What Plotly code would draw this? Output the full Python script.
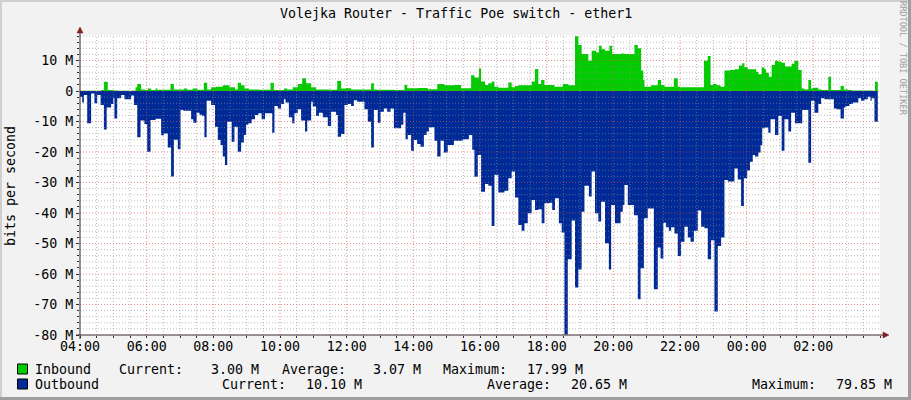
import plotly.graph_objects as go
import pandas as pd

TITLE = "Volejka Router - Traffic Poe switch - ether1"
Y_LABEL = "bits per second"
WATERMARK = "RRDTOOL / TOBI OETIKER"
START = pd.Timestamp("2024-01-01 04:00")
SPAN_MIN = 1440

# Inbound (positive, Mbit/s) - step breakpoints, minutes since 04:00
inbound_min = [0, 38, 43, 50, 61, 68, 100, 103, 110, 117, 122, 128, 136, 139, 163, 169, 187, 193, 203, 211, 223, 229, 236,
               245, 257, 269, 279, 284, 290, 296, 304, 323, 343, 349, 367, 373, 383, 392, 400, 407, 416, 425, 449, 463, 470, 479,
               482, 488, 524, 529, 535, 566, 584, 589, 608, 626, 643, 656, 674, 686, 704, 710, 718, 722,
               729, 735, 741, 746, 753, 771, 777, 783, 789, 813, 819, 825, 830, 836, 854, 869, 879, 891, 897, 903, 915, 921, 929, 934, 939, 945, 953, 958,
               974, 980, 998, 1004, 1010, 1014, 1016, 1028, 1040, 1046, 1052, 1069, 1076, 1080, 1123, 1130, 1135, 1139, 1146, 1153, 1160, 1170, 1178, 1186, 1192, 1196, 1202,
               1217, 1221, 1227, 1232, 1235, 1240, 1245, 1251, 1257, 1263, 1269, 1281, 1286, 1293, 1299, 1304, 1311, 1316, 1319, 1329, 1335, 1347, 1352, 1369, 1375, 1383, 1389, 1427, 1431, 1436]
inbound_mbps = [0.1, 0.3, 3.0, 0.3, 0.2, 0.1, 1.2, 2.3, 0.5, 0.3, 0.8, 0.3, 0.8, 0.4, 2.3, 0.5, 0.8, 0.4, 0.8, 0.4, 2.7, 0.5, 1.2,
                1.4, 1.9, 1.2, 0.5, 2.7, 1.9, 0.8, 0.5, 0.4, 2.7, 0.3, 0.8, 0.5, 1.2, 2.3, 4.2, 2.5, 1.2, 0.5, 0.4, 3.3, 0.8, 1.0,
                0.9, 0.5, 2.5, 0.5, 0.4, 0.3, 2.0, 0.9, 1.0, 0.6, 2.3, 1.9, 2.0, 0.9, 5.2, 4.4, 7.4, 3.1,
                2.0, 2.5, 3.1, 1.4, 1.1, 2.8, 1.2, 1.6, 1.9, 3.1, 7.2, 2.3, 3.6, 2.0, 1.4, 2.3, 1.9, 17.99, 15.1, 12.1, 9.9, 13.2, 12.6, 14.8, 13.7, 13.2, 14.8, 12.1,
                12.3, 12.1, 15.1, 14.0, 6.7, 3.6, 1.4, 1.9, 3.6, 2.0, 1.4, 4.2, 1.4, 1.2, 9.9, 11.5, 2.0, 2.3, 1.9, 1.4, 6.7, 6.9, 7.1, 8.4, 9.1, 7.8, 7.1,
                6.3, 5.5, 7.7, 7.1, 6.0, 4.7, 8.5, 9.9, 9.6, 9.3, 8.0, 8.9, 9.9, 6.9, 0.8, 0.5, 3.6, 0.8, 1.1, 0.5, 0.3, 4.7, 0.3, 1.6, 0.5, 0.3, 0.2, 0.1, 3.0, 3.0]

# Outbound (drawn negative, Mbit/s)
outbound_min = [0, 4, 7, 13, 20, 26, 31, 37, 43, 48, 56, 60, 62, 67, 74, 80, 92, 97, 103, 109, 116, 121, 127, 136, 146, 151, 158, 164, 169, 176, 181, 186, 200, 204, 210, 215, 220, 224, 228, 236,
                243, 248, 253, 257, 261, 265, 273, 278, 284, 290, 295, 299, 303, 309, 315, 321, 327, 333, 346, 350, 356, 362, 367, 370, 376, 382, 386, 392, 398, 405, 409, 416, 419, 425, 430, 437, 446, 452, 461, 464, 470, 476,
                482, 488, 493, 499, 512, 518, 524, 529, 536, 541, 547, 553, 559, 565, 578, 582, 586, 590, 596, 601, 607, 613, 619, 624, 628, 638, 643, 649, 655, 662, 673, 689, 700, 706, 710, 716, 722,
                729, 735, 741, 746, 753, 764, 771, 777, 783, 789, 795, 800, 806, 813, 819, 825, 831, 836, 845, 850, 855, 862, 867, 872, 878, 885, 891, 897, 903, 908, 916, 921, 927, 933, 938, 945, 952, 956, 963,
                973, 977, 980, 986, 997, 1004, 1009, 1015, 1022, 1033, 1040, 1045, 1050, 1055, 1060, 1064, 1070, 1076, 1082, 1088, 1094, 1099, 1105, 1112, 1118, 1124, 1130, 1136, 1142, 1148, 1154, 1160, 1166, 1178, 1184, 1190, 1195, 1201, 1206, 1211,
                1215, 1221, 1225, 1228, 1233, 1239, 1243, 1251, 1257, 1263, 1268, 1275, 1280, 1287, 1300, 1311, 1316, 1322, 1329, 1334, 1340, 1357, 1362, 1369, 1375, 1378, 1385, 1391, 1401, 1406, 1412, 1418, 1423, 1425, 1430, 1436]
outbound_mbps = [-1.9, -3.8, -1.3, -10.6, -0.8, -4.0, -1.3, -4.6, -12.6, -5.4, -4.3, -2.4, -9.0, -2.4, -1.3, -2.7, -1.5, -4.6, -15.2, -9.7, -10.8, -19.9, -9.5, -9.1, -14.5, -13.9, -18.5, -28.0, -16.0, -19.1, -6.2, -6.5, -9.3, -10.4, -7.1, -7.8, -8.2, -15.2, -3.2, -4.6,
                 -11.7, -16.1, -17.7, -21.5, -24.3, -10.1, -16.6, -11.7, -19.9, -16.9, -14.4, -11.1, -10.6, -9.3, -7.9, -7.3, -9.3, -7.3, -13.7, -4.9, -5.7, -4.3, -2.7, -3.8, -8.6, -10.6, -7.3, -6.0, -9.7, -13.3, -9.7, -3.5, -5.1, -8.2, -7.1, -8.6, -11.5, -6.8, -7.9, -15.0, -14.1, -4.6,
                 -4.3, -4.9, -3.0, -3.5, -6.0, -10.1, -18.5, -6.2, -10.4, -6.8, -5.7, -6.8, -5.7, -12.2, -11.1, -7.1, -15.8, -14.4, -19.6, -16.1, -17.4, -18.3, -14.4, -13.3, -11.9, -16.3, -21.5, -16.3, -20.2, -17.7, -16.3, -15.8, -14.4, -19.3, -28.1, -21.0, -33.0,
                 -30.5, -31.1, -44.3, -27.5, -33.3, -32.7, -28.6, -26.4, -34.9, -43.9, -45.8, -43.4, -40.1, -35.7, -39.0, -38.8, -43.4, -36.8, -36.6, -39.0, -35.2, -43.4, -46.4, -79.85, -55.2, -42.5, -64.4, -58.5, -39.6, -31.1, -34.6, -26.4, -40.1, -42.8, -36.3, -49.9, -58.5, -37.4, -43.4,
                 -39.6, -37.4, -30.8, -37.4, -40.7, -68.3, -58.1, -41.7, -38.5, -65.0, -51.3, -54.9, -43.2, -44.7, -45.8, -44.7, -46.7, -54.1, -49.4, -44.5, -48.0, -49.4, -45.8, -39.2, -44.5, -45.0, -55.2, -48.9, -72.3, -50.8, -48.0, -29.2, -29.7, -25.4, -29.0, -37.7, -28.6, -26.1, -23.2, -21.0,
                 -21.5, -20.2, -17.7, -12.2, -12.0, -13.7, -9.3, -14.4, -8.2, -19.6, -9.3, -13.3, -7.1, -10.6, -6.2, -23.5, -3.2, -7.1, -4.3, -2.4, -2.7, -5.7, -6.0, -9.0, -5.4, -4.9, -4.3, -3.8, -2.4, -3.2, -2.7, -1.9, -3.2, -2.4, -10.1, -10.1]

x_tick_labels = ["04:00", "06:00", "08:00", "10:00", "12:00", "14:00", "16:00", "18:00", "20:00", "22:00", "00:00", "02:00"]
y_tick_vals = [10, 0, -10, -20, -30, -40, -50, -60, -70, -80]
y_tick_labels = ["10 M", "0", "-10 M", "-20 M", "-30 M", "-40 M", "-50 M", "-60 M", "-70 M", "-80 M"]

series_names = ["Inbound", "Outbound"]
series_colors = ["#00CC00", "#002A97"]
stat_labels = ["Current:", "Average:", "Maximum:"]
inbound_stats = ["3.00 M", "3.07 M", "17.99 M"]
outbound_stats = ["10.10 M", "20.65 M", "79.85 M"]

Y_MIN, Y_MAX = -80, 18.36

W, H = 911, 400
L, R, T, B = 80, 31, 35, 65
PW, PH = W - L - R, H - T - B
FONT = "DejaVu Sans Mono"


def px(xp):
    return (xp - L) / PW


def py(yp):
    return (H - B - yp) / PH


def tmin(m):
    return START + pd.to_timedelta(m, unit="m")


in_x = [tmin(m) for m in inbound_min]
out_x = [tmin(m) for m in outbound_min]

fig = go.Figure()
fig.add_trace(go.Scatter(x=out_x, y=outbound_mbps, mode="lines", line=dict(shape="hv", width=0, color=series_colors[1]),
                         fill="tozeroy", fillcolor=series_colors[1], hoverinfo="skip", showlegend=False))
fig.add_trace(go.Scatter(x=in_x, y=inbound_mbps, mode="lines", line=dict(shape="hv", width=0, color=series_colors[0]),
                         fill="tozeroy", fillcolor=series_colors[0], hoverinfo="skip", showlegend=False))

shapes = []
GRID = "rgba(143,143,143,0.6)"
MGRID = "rgba(222,79,79,0.65)"
DOT = "1px,2px"
for k in range(1, SPAN_MIN // 30):
    major = (k % 4 == 0)
    shapes.append(dict(type="line", xref="x", yref="paper", x0=tmin(30 * k), x1=tmin(30 * k), y0=0, y1=1,
                       line=dict(color=MGRID if major else GRID, width=1, dash=DOT), layer="above"))
for v in range(-78, 19, 2):
    major = (v % 10 == 0)
    shapes.append(dict(type="line", xref="paper", yref="y", x0=0, x1=1, y0=v, y1=v,
                       line=dict(color=MGRID if major else GRID, width=1, dash=DOT), layer="above"))

AXIS = "#3a2a2a"
ARROW = "#801F1F"
# axes lines
shapes.append(dict(type="line", xref="paper", yref="paper", x0=0, x1=0, y0=py(339), y1=py(29),
                   line=dict(color=AXIS, width=1), layer="above"))
shapes.append(dict(type="line", xref="paper", yref="paper", x0=px(76), x1=px(884), y0=0, y1=0,
                   line=dict(color=AXIS, width=1), layer="above"))
# arrows
shapes.append(dict(type="path", xref="paper", yref="paper",
                   path=f"M {px(77)} {py(33)} L {px(83)} {py(33)} L {px(80)} {py(27)} Z",
                   fillcolor=ARROW, line=dict(color=ARROW, width=0.5), layer="above"))
shapes.append(dict(type="path", xref="paper", yref="paper",
                   path=f"M {px(883)} {py(332)} L {px(883)} {py(338)} L {px(889)} {py(335)} Z",
                   fillcolor=ARROW, line=dict(color=ARROW, width=0.5), layer="above"))
# frame shading
shapes.append(dict(type="rect", xref="paper", yref="paper", x0=px(0), x1=px(W), y0=py(0), y1=py(2),
                   fillcolor="#CFCFCF", line=dict(width=0), layer="below"))
shapes.append(dict(type="rect", xref="paper", yref="paper", x0=px(0), x1=px(2), y0=py(0), y1=py(H),
                   fillcolor="#CFCFCF", line=dict(width=0), layer="below"))
shapes.append(dict(type="rect", xref="paper", yref="paper", x0=px(908), x1=px(W), y0=py(0), y1=py(H),
                   fillcolor="#9E9E9E", line=dict(width=0), layer="below"))
shapes.append(dict(type="rect", xref="paper", yref="paper", x0=px(0), x1=px(W), y0=py(397), y1=py(H),
                   fillcolor="#9E9E9E", line=dict(width=0), layer="below"))

# legend boxes
row_y = [369, 384]
for i, c in enumerate(series_colors):
    shapes.append(dict(type="rect", xref="paper", yref="paper", x0=px(17.5), x1=px(27.5),
                       y0=py(row_y[i] - 5), y1=py(row_y[i] + 5),
                       fillcolor=c, line=dict(color="#000000", width=1), layer="above"))

FS = 13.3
ann = []
ann.append(dict(text=TITLE, x=px(455.5), y=py(14), xref="paper", yref="paper", showarrow=False,
                xanchor="center", yanchor="middle", font=dict(family=FONT, size=FS, color="#000")))
ann.append(dict(text=Y_LABEL, x=px(10), y=py(186), xref="paper", yref="paper", showarrow=False, textangle=-90,
                xanchor="center", yanchor="middle", font=dict(family=FONT, size=FS, color="#000")))
ann.append(dict(text=WATERMARK, x=px(903), y=py(58), xref="paper", yref="paper", showarrow=False, textangle=90,
                xanchor="center", yanchor="middle", font=dict(family=FONT, size=8.6, color="#A0A0A0")))

# legend rows: (label x, value right edge x)
row_pos = [
    [(117, 261), (280, 423), (441, 585)],
    [(220, 364), (485, 629), (750, 894)],
]
stats = [inbound_stats, outbound_stats]
for i in range(2):
    ann.append(dict(text=series_names[i], x=px(33), y=py(row_y[i]), xref="paper", yref="paper", showarrow=False,
                    xanchor="left", yanchor="middle", font=dict(family=FONT, size=FS, color="#000")))
    for j in range(3):
        lx, rx = row_pos[i][j]
        ann.append(dict(text=stat_labels[j], x=px(lx), y=py(row_y[i]), xref="paper", yref="paper", showarrow=False,
                        xanchor="left", yanchor="middle", font=dict(family=FONT, size=FS, color="#000")))
        ann.append(dict(text=stats[i][j], x=px(rx), y=py(row_y[i]), xref="paper", yref="paper", showarrow=False,
                        xanchor="right", yanchor="middle", font=dict(family=FONT, size=FS, color="#000")))

fig.update_layout(
    width=W, height=H,
    margin=dict(l=L, r=R, t=T, b=B, pad=0, autoexpand=False),
    paper_bgcolor="#F2F2F2", plot_bgcolor="#FFFFFF",
    showlegend=False,
    shapes=shapes, annotations=ann,
    font=dict(family=FONT, size=FS, color="#000"),
)
fig.update_xaxes(
    type="date", range=[START, tmin(SPAN_MIN)],
    tickvals=[tmin(120 * k) for k in range(len(x_tick_labels))], ticktext=x_tick_labels,
    showgrid=False, zeroline=False, showline=False, automargin=False,
    ticks="outside", ticklen=2, tickcolor=AXIS, ticklabelstandoff=-3,
    minor=dict(dtick=30 * 60 * 1000, tick0=START, ticks="outside", ticklen=2, tickcolor=AXIS, showgrid=False),
    tickfont=dict(family=FONT, size=FS, color="#000"),
)
fig.update_yaxes(
    range=[Y_MIN, Y_MAX], tickvals=y_tick_vals, ticktext=y_tick_labels,
    showgrid=False, zeroline=False, showline=False, automargin=False,
    ticks="outside", ticklen=3, tickcolor=AXIS,
    minor=dict(dtick=2, tick0=0, ticks="outside", ticklen=2, tickcolor=AXIS, showgrid=False),
    tickfont=dict(family=FONT, size=FS, color="#000"),
)

fig.write_html("out.html", config={"displayModeBar": False},
               post_script="document.body.style.margin='0';document.body.style.padding='0';document.body.style.overflow='hidden';")
